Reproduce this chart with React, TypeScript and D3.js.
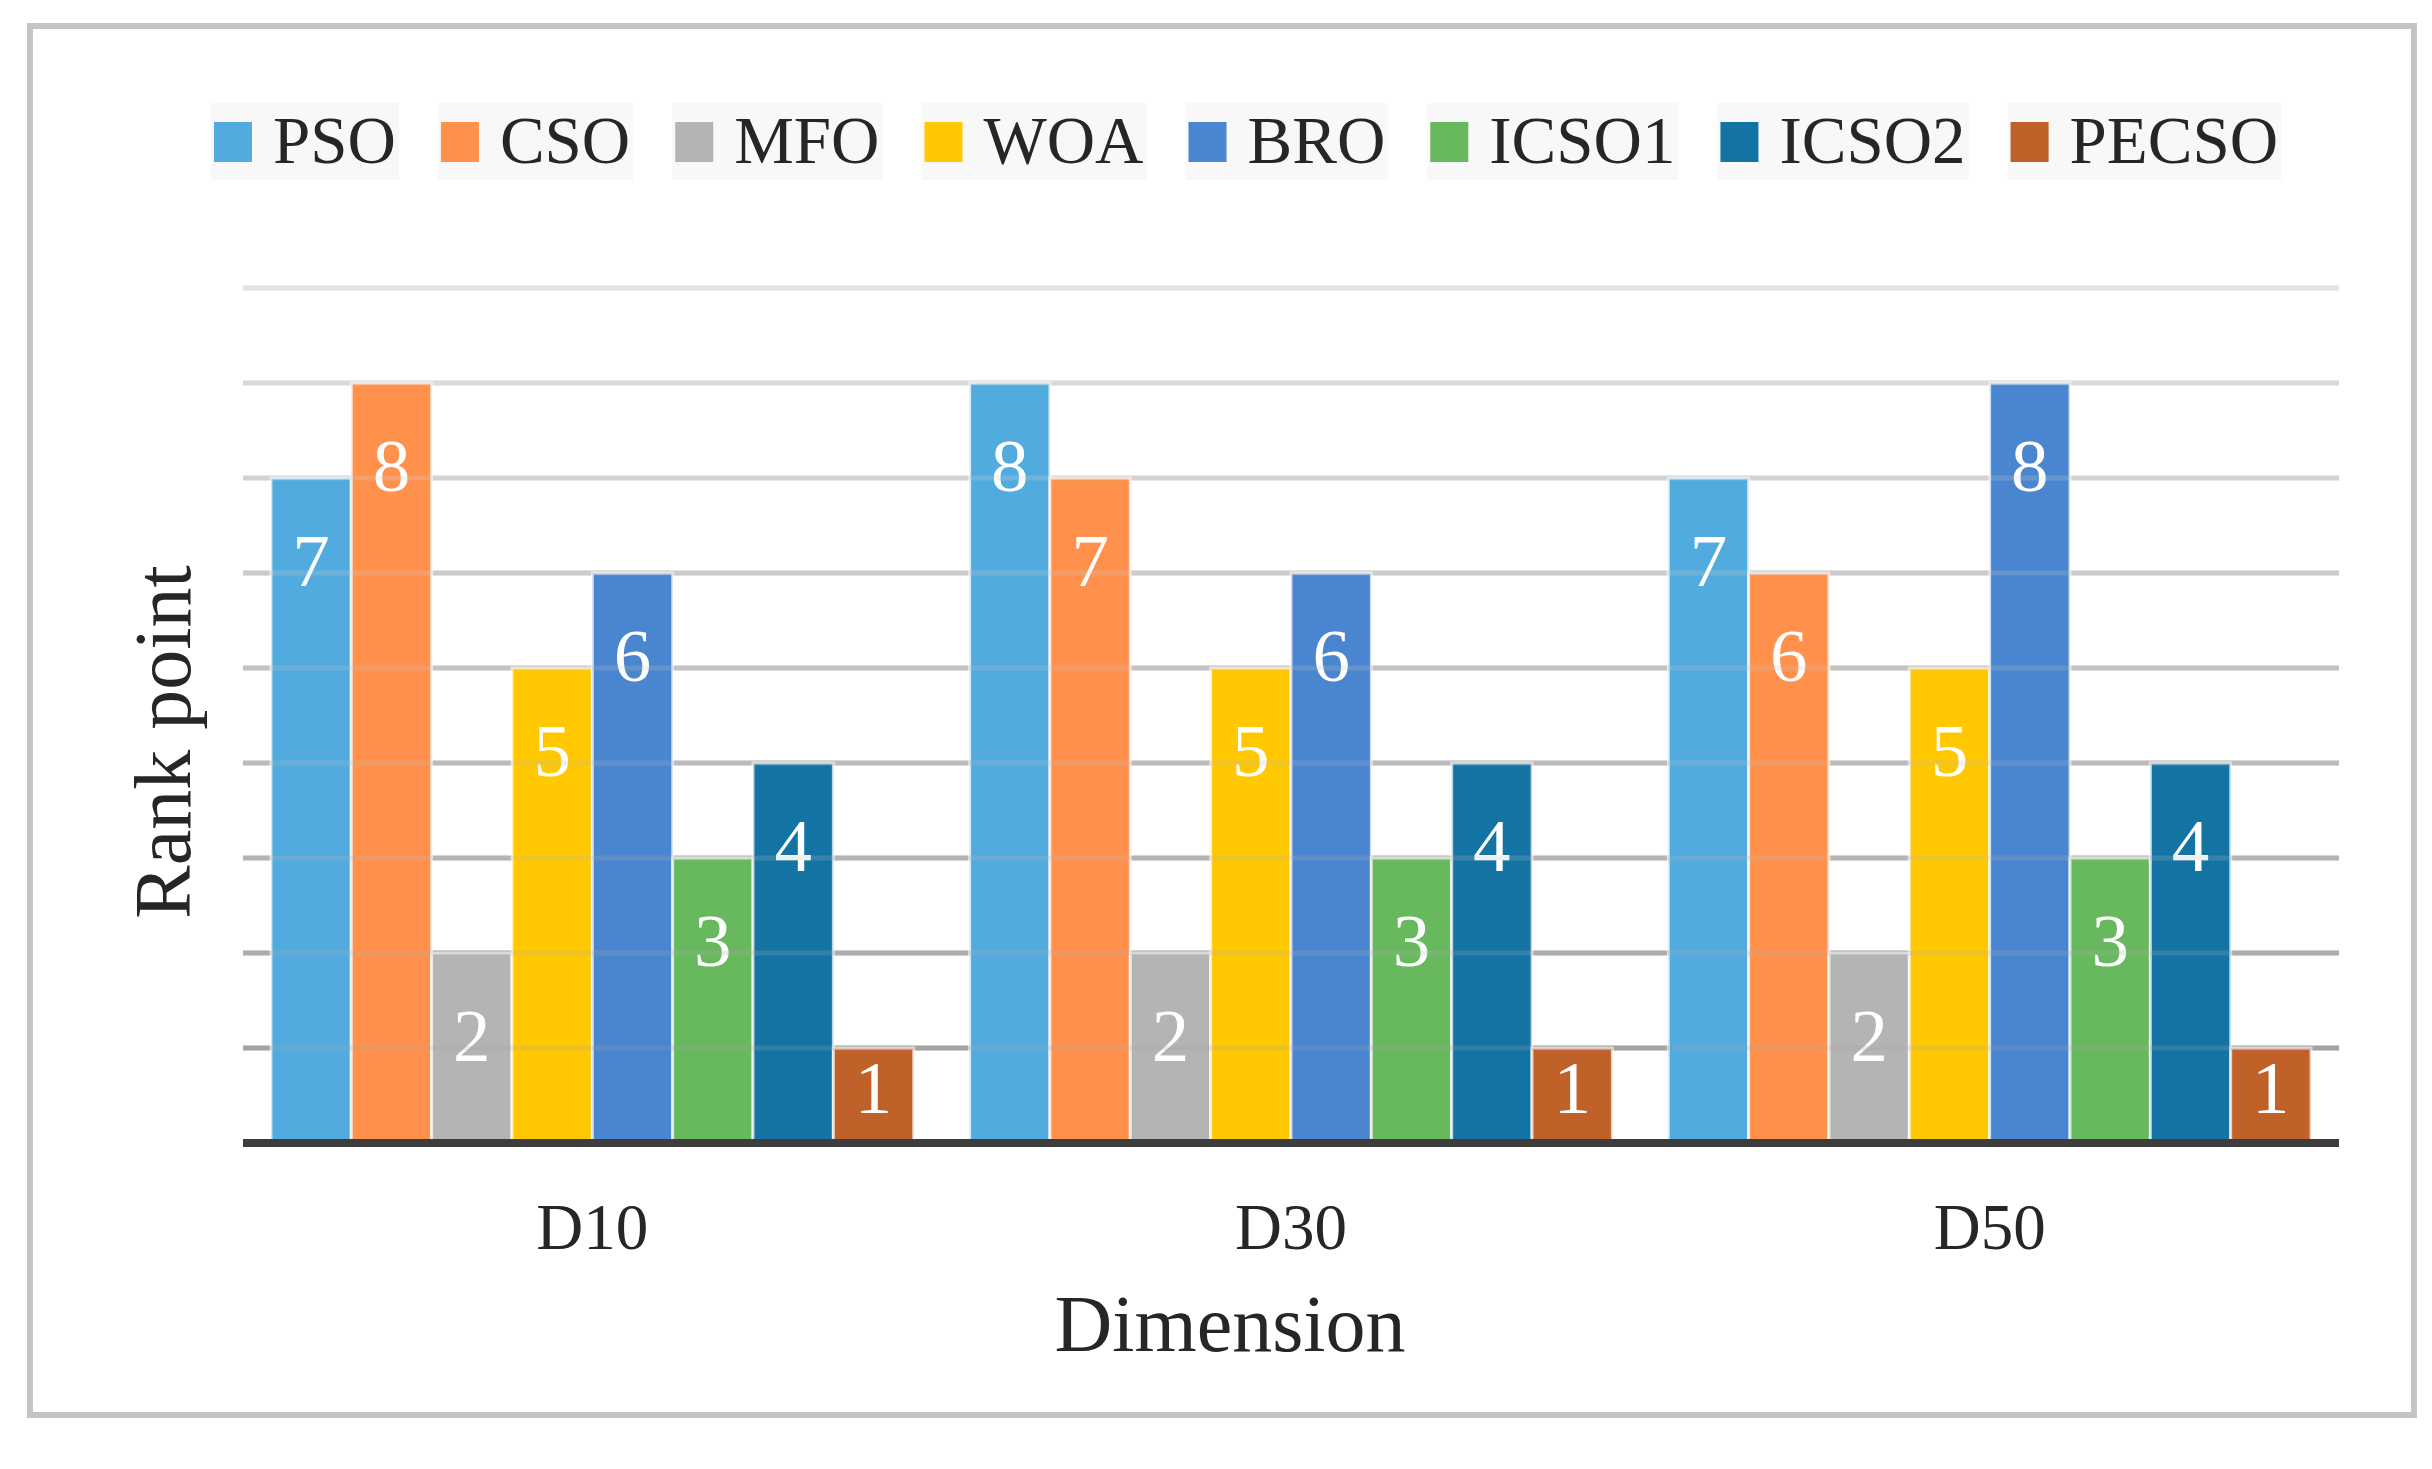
import React, { useEffect, useRef } from "react";
import * as d3 from "d3";

const categories = ["D10", "D30", "D50"];
const seriesNames = ["PSO", "CSO", "MFO", "WOA", "BRO", "ICSO1", "ICSO2", "PECSO"];
const seriesColors = ["#52ABDF", "#FF914D", "#B4B4B4", "#FFC800", "#4A86CF", "#68B95D", "#1374A4", "#C1612A"];
const PSO = [7, 8, 7];
const CSO = [8, 7, 6];
const MFO = [2, 2, 2];
const WOA = [5, 5, 5];
const BRO = [6, 6, 8];
const ICSO1 = [3, 3, 3];
const ICSO2 = [4, 4, 4];
const PECSO = [1, 1, 1];
const seriesValues = [PSO, CSO, MFO, WOA, BRO, ICSO1, ICSO2, PECSO];
const yTicks = [1, 2, 3, 4, 5, 6, 7, 8, 9];
const xTitle = "Dimension";
const yTitle = "Rank point";

const W = 2432;
const H = 1469;
const FONT = "'Liberation Serif', 'Times New Roman', serif";

export default function App() {
  const ref = useRef<SVGSVGElement | null>(null);

  useEffect(() => {
    const svg = d3.select(ref.current);
    svg.selectAll("*").remove();

    svg.append("rect").attr("x", 0).attr("y", 0).attr("width", W).attr("height", H).attr("fill", "#ffffff");
    svg.append("rect")
      .attr("x", 30).attr("y", 26).attr("width", 2384).attr("height", 1389)
      .attr("fill", "#ffffff").attr("stroke", "#c4c4c4").attr("stroke-width", 6);

    const x0 = d3.scaleBand<string>().domain(categories).range([243, 2339]).paddingInner(0.08).paddingOuter(0.04);
    const x1 = d3.scaleBand<string>().domain(seriesNames).range([0, x0.bandwidth()]);
    const y = d3.scaleLinear().domain([0, 9]).range([1143, 288]);
    const gridColor = d3.scaleLinear<string>().domain([9, 1]).range(["#e2e2e2", "#a4a4a4"]);

    // gridlines
    const grid = svg.append("g");
    grid.selectAll("line").data(yTicks).join("line")
      .attr("x1", 243).attr("x2", 2339)
      .attr("y1", d => y(d)).attr("y2", d => y(d))
      .attr("stroke", d => gridColor(d)).attr("stroke-width", 5);

    // bars
    const groups = svg.append("g").selectAll("g").data(categories).join("g")
      .attr("transform", c => `translate(${x0(c)},0)`);

    groups.each(function (c, ci) {
      const g = d3.select(this);
      const data = seriesNames.map((s, si) => ({ s, si, v: seriesValues[si][ci] }));
      g.selectAll("rect").data(data).join("rect")
        .attr("x", d => x1(d.s)!)
        .attr("y", d => y(d.v))
        .attr("width", x1.bandwidth())
        .attr("height", d => y(0) - y(d.v))
        .attr("fill", d => seriesColors[d.si])
        .attr("stroke", "#ffffff").attr("stroke-opacity", 0.7).attr("stroke-width", 3);
    });

    // faint grid overlay through bars
    svg.append("g").selectAll("line").data(yTicks).join("line")
      .attr("x1", 243).attr("x2", 2339)
      .attr("y1", d => y(d)).attr("y2", d => y(d))
      .attr("stroke", d => gridColor(d)).attr("stroke-width", 5).attr("stroke-opacity", 0.22);

    // labels
    groups.each(function (c, ci) {
      const g = d3.select(this);
      const data = seriesNames.map((s, si) => ({ s, si, v: seriesValues[si][ci] }));
      g.selectAll("text").data(data).join("text")
        .attr("x", d => x1(d.s)! + x1.bandwidth() / 2)
        .attr("y", d => Math.min(y(d.v) + 108, y(0) - 30))
        .attr("text-anchor", "middle")
        .attr("font-family", FONT).attr("font-size", 75)
        .attr("fill", "#ffffff")
        .text(d => String(d.v));
    });

    // baseline
    svg.append("line").attr("x1", 243).attr("x2", 2339).attr("y1", y(0)).attr("y2", y(0))
      .attr("stroke", "#3d3d3d").attr("stroke-width", 8);

    // category labels
    svg.append("g").selectAll("text").data(categories).join("text")
      .attr("x", c => x0(c)! + x0.bandwidth() / 2)
      .attr("y", 1249)
      .attr("text-anchor", "middle")
      .attr("font-family", FONT).attr("font-size", 65).attr("fill", "#262626")
      .text(c => c);

    // axis titles
    svg.append("text").attr("x", 1230).attr("y", 1351).attr("text-anchor", "middle")
      .attr("font-family", FONT).attr("font-size", 80).attr("fill", "#262626").text(xTitle);
    svg.append("text").attr("transform", "translate(190,742) rotate(-90)").attr("text-anchor", "middle")
      .attr("font-family", FONT).attr("font-size", 80).attr("fill", "#262626").text(yTitle);

    // legend
    const leg = svg.append("g");
    let lx = 214;
    seriesNames.forEach((s, i) => {
      const item = leg.append("g");
      const bg = item.append("rect").attr("fill", "#f8f8f8");
      item.append("rect").attr("x", lx).attr("y", 122).attr("width", 38).attr("height", 40)
        .attr("fill", seriesColors[i]);
      const t = item.append("text").attr("x", lx + 59).attr("y", 163)
        .attr("font-family", FONT).attr("font-size", 67).attr("fill", "#262626").text(s);
      const tw = (t.node() as SVGTextElement).getComputedTextLength();
      bg.attr("x", lx - 3).attr("y", 103).attr("width", 59 + tw + 6).attr("height", 77);
      lx = lx + 59 + tw + 45;
    });
  }, []);

  return (
    <svg ref={ref} width={W} height={H} style={{ position: "absolute", left: 0, top: 0 }} />
  );
}
